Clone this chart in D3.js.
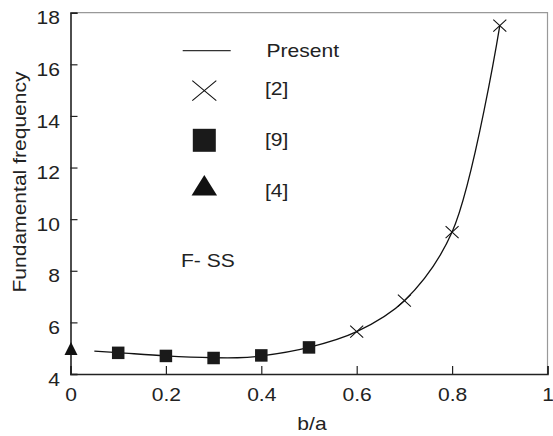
<!DOCTYPE html>
<html><head><meta charset="utf-8">
<script src="https://cdn.jsdelivr.net/npm/d3@7"></script>
<style>
body{margin:0;background:#fff;}
text{font-family:"Liberation Sans",Arial,sans-serif;fill:#222;}
</style></head><body>
<svg id="c" width="553" height="436"></svg>
<script>
const xTicks = [0, 0.2, 0.4, 0.6, 0.8, 1];
const yTicks = [4, 6, 8, 10, 12, 14, 16, 18];
const presentX = [0.05, 0.1, 0.2, 0.3, 0.35, 0.4, 0.5, 0.6, 0.7, 0.8, 0.9];
const presentY = [4.89, 4.83, 4.70, 4.63, 4.63, 4.70, 5.03, 5.64, 6.84, 9.5, 17.5];
const ref2X = [0.6, 0.7, 0.8, 0.9];
const ref2Y = [5.64, 6.84, 9.5, 17.5];
const ref9X = [0.1, 0.2, 0.3, 0.4, 0.5];
const ref9Y = [4.82, 4.70, 4.62, 4.72, 5.03];
const ref4X = [0];
const ref4Y = [4.9];
const legendLabels = ["Present", "[2]", "[9]", "[4]"];

const SX = 1.17; // horizontal stretch of the glyphs
const svg = d3.select("#c");
const x = d3.scaleLinear().domain([0, 1]).range([70.5, 547.5]);
const y = d3.scaleLinear().domain([4, 18]).range([374, 12.7]);

function stext(px, py, str, anchor){
  return svg.append("text").attr("transform", `translate(${px},${py}) scale(${SX},1)`)
    .attr("text-anchor", anchor || "start").attr("font-size", 18).text(str);
}

// frame top & right
svg.append("path").attr("d", `M${x(0)},${y(18)}H${x(1)}V${y(4)}`)
  .attr("fill","none").attr("stroke","#999").attr("stroke-width",1.2);

// axes
const xAxis = d3.axisBottom(x).tickValues(xTicks).tickSize(-8).tickPadding(14)
  .tickFormat(d => d3.format("")(d));
const gx = svg.append("g").attr("transform", `translate(0,${y(4)})`).call(xAxis);
gx.select(".domain").attr("stroke","#222").attr("stroke-width",1.6);
gx.selectAll(".tick line").attr("stroke","#222").attr("stroke-width",1.2);
gx.selectAll(".tick text").attr("font-size",18).attr("fill","#222").attr("dy","0.75em")
  .attr("transform", `scale(${SX},1)`)
  .attr("font-family","Liberation Sans, Arial, sans-serif");

const yAxis = d3.axisLeft(y).tickValues(yTicks).tickSize(-7).tickPadding(11);
const gy = svg.append("g").attr("transform", `translate(${x(0)},0)`).call(yAxis);
gy.select(".domain").attr("stroke","#222").attr("stroke-width",1.6);
gy.selectAll(".tick line").attr("stroke","#222").attr("stroke-width",1.2);
gy.selectAll(".tick text").attr("font-size",18).attr("fill","#222").attr("dy","0.62em")
  .attr("x", -10.5 / SX).attr("transform", `scale(${SX},1)`)
  .attr("font-family","Liberation Sans, Arial, sans-serif");

// axis titles
stext(312, 430, "b/a", "middle");
svg.append("text").attr("transform",`translate(26,182) rotate(-90) scale(${SX},1)`)
  .attr("text-anchor","middle").attr("font-size",18).text("Fundamental frequency");

// present curve
const line = d3.line().x(d => x(d[0])).y(d => y(d[1])).curve(d3.curveCatmullRom.alpha(0.5));
svg.append("path").datum(presentX.map((v,i)=>[v, presentY[i]]))
  .attr("d", line).attr("fill","none").attr("stroke","#111").attr("stroke-width",1.3);

// markers
function cross(g, cx, cy, w, h, sw){
  g.append("path").attr("d", `M${cx-w/2},${cy-h/2}L${cx+w/2},${cy+h/2}M${cx-w/2},${cy+h/2}L${cx+w/2},${cy-h/2}`)
    .attr("stroke","#111").attr("stroke-width",sw).attr("fill","none");
}
function square(g, cx, cy, s){
  g.append("rect").attr("x",cx-s/2).attr("y",cy-s/2).attr("width",s).attr("height",s).attr("fill","#1a1a1a");
}
function tri(g, cx, cy, w, h){
  g.append("path").attr("d", `M${cx},${cy-h*2/3}L${cx+w/2},${cy+h/3}L${cx-w/2},${cy+h/3}Z`).attr("fill","#111");
}
const gm = svg.append("g");
ref2X.forEach((v,i)=>cross(gm, x(v), y(ref2Y[i]), 13, 12, 1.1));
ref9X.forEach((v,i)=>square(gm, x(v), y(ref9Y[i]), 12.5));
ref4X.forEach((v,i)=>tri(gm, x(v)+0.5, y(ref4Y[i]), 13, 13));

// legend
const lg = svg.append("g");
lg.append("line").attr("x1",182.7).attr("x2",230.7).attr("y1",50.7).attr("y2",50.7)
  .attr("stroke","#333").attr("stroke-width",1.2);
cross(lg, 204.3, 90.7, 24, 20, 1.1);
square(lg, 204.3, 140.3, 23);
tri(lg, 204.3, 188.7, 25.5, 20.5);
const ly = [56.7, 94.5, 145.5, 197];
legendLabels.forEach((t,i)=>{
  stext(i===0 ? 266.5 : 265, ly[i], t);
});
stext(181, 267, "F- SS");
</script>
</body></html>
